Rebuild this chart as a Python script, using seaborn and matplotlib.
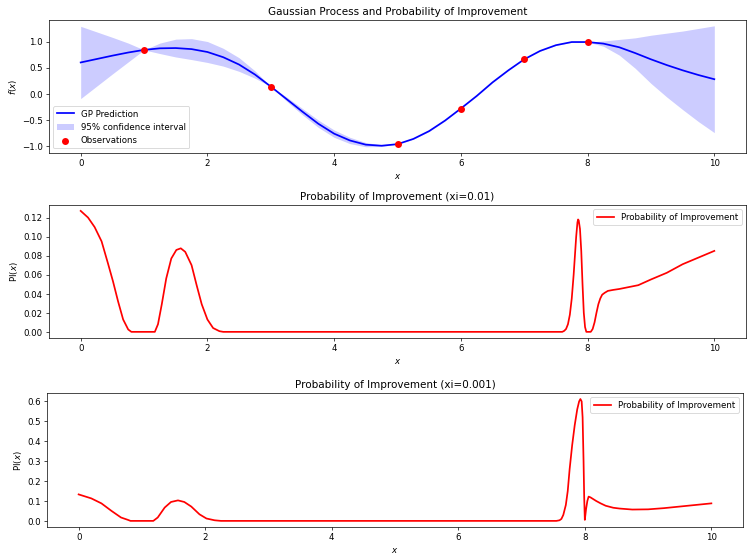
import numpy as np
import pandas as pd
import seaborn as sns
import matplotlib.pyplot as plt

# GP posterior (step 0.25)
x_grid = [0.0, 0.25, 0.5, 0.75, 1.0, 1.25, 1.5, 1.75, 2.0, 2.25, 2.5, 2.75,
          3.0, 3.25, 3.5, 3.75, 4.0, 4.25, 4.5, 4.75, 5.0, 5.25, 5.5, 5.75,
          6.0, 6.25, 6.5, 6.75, 7.0, 7.25, 7.5, 7.75, 8.0, 8.25, 8.5, 8.75,
          9.0, 9.25, 9.5, 9.75, 10.0]
gp_mean = [0.60, 0.665, 0.73, 0.79, 0.84, 0.87, 0.875, 0.855, 0.80, 0.70, 0.56, 0.37,
           0.14, -0.10, -0.34, -0.57, -0.76, -0.89, -0.97, -0.99, -0.96, -0.86, -0.71, -0.51,
           -0.28, -0.04, 0.22, 0.45, 0.66, 0.82, 0.93, 0.99, 0.99, 0.96, 0.89, 0.78,
           0.66, 0.55, 0.45, 0.36, 0.28]
# half width of the 95% band (1.96 sigma)
gp_half = [0.69, 0.52, 0.35, 0.18, 0.0, 0.10, 0.17, 0.20, 0.20, 0.17, 0.13, 0.07,
           0.0, 0.04, 0.06, 0.07, 0.07, 0.06, 0.04, 0.015, 0.0, 0.006, 0.008, 0.006,
           0.0, 0.005, 0.006, 0.005, 0.0, 0.004, 0.005, 0.004, 0.0, 0.05, 0.15, 0.29,
           0.46, 0.61, 0.75, 0.89, 1.02]

obs_x = [1, 3, 5, 6, 7, 8]
obs_y = [0.84, 0.14, -0.96, -0.28, 0.66, 0.99]

# probability of improvement, xi=0.01
pi1_x = [0.0, 0.116, 0.22, 0.33, 0.43, 0.51, 0.59, 0.67, 0.75, 0.80, 1.17, 1.22, 1.28,
         1.35, 1.43, 1.51, 1.58, 1.65, 1.75, 1.83, 1.91, 2.0, 2.09, 2.19, 2.25,
         7.60, 7.63, 7.66, 7.69, 7.72, 7.75, 7.78, 7.80, 7.82, 7.84, 7.85, 7.86, 7.88,
         7.90, 7.92, 7.94, 7.96, 7.98, 8.05, 8.08, 8.11, 8.14, 8.17, 8.20, 8.23, 8.27,
         8.32, 8.40, 8.50, 8.65, 8.80, 9.0, 9.25, 9.5, 9.75, 10.0]
pi1_y = [0.127, 0.120, 0.110, 0.095, 0.072, 0.053, 0.032, 0.013, 0.0025, 0.0, 0.0, 0.008,
         0.029, 0.056, 0.077, 0.086, 0.0877, 0.084, 0.070, 0.049, 0.029, 0.013, 0.004,
         0.0007, 0.0,
         0.0, 0.001, 0.003, 0.008, 0.018, 0.035, 0.060, 0.080, 0.100, 0.115, 0.118, 0.117,
         0.108, 0.085, 0.050, 0.020, 0.005, 0.0, 0.0, 0.003, 0.010, 0.020, 0.029, 0.035,
         0.039, 0.041, 0.043, 0.044, 0.045, 0.047, 0.049, 0.055, 0.062, 0.071, 0.078, 0.085]

# probability of improvement, xi=0.001
pi2_x = [0.0, 0.2, 0.36, 0.52, 0.67, 0.78, 0.82, 1.18, 1.25, 1.36, 1.46, 1.57, 1.67, 1.78,
         1.91, 2.02, 2.15, 2.25,
         7.55, 7.60, 7.63, 7.66, 7.70, 7.73, 7.76, 7.80, 7.84, 7.88, 7.91, 7.93, 7.95,
         7.965, 7.98, 7.99, 8.0, 8.02, 8.04, 8.06, 8.09, 8.13, 8.18, 8.25, 8.33, 8.45,
         8.55, 8.75, 9.0, 9.25, 9.5, 9.75, 10.0]
pi2_y = [0.133, 0.113, 0.088, 0.05, 0.017, 0.005, 0.0, 0.0, 0.017, 0.067, 0.095, 0.103,
         0.095, 0.072, 0.033, 0.012, 0.003, 0.0,
         0.0, 0.003, 0.010, 0.030, 0.080, 0.150, 0.26, 0.38, 0.48, 0.56, 0.60, 0.612, 0.60,
         0.52, 0.30, 0.12, 0.005, 0.06, 0.10, 0.122, 0.118, 0.11, 0.10, 0.088, 0.076, 0.066,
         0.062, 0.057, 0.058, 0.064, 0.072, 0.080, 0.088]

gp = pd.DataFrame({"x": x_grid, "mean": gp_mean, "half": gp_half})
gp["lower"] = gp["mean"] - gp["half"]
gp["upper"] = gp["mean"] + gp["half"]

W, H = 747, 560
fig, axes = plt.subplots(3, 1, figsize=(12, 9), dpi=62.25)

ax = axes[0]
sns.lineplot(data=gp, x="x", y="mean", color="blue", linewidth=2,
             label="GP Prediction", ax=ax)
ax.fill_between(gp["x"], gp["lower"], gp["upper"], color="blue", alpha=0.2,
                linewidth=0, label="95% confidence interval")
sns.scatterplot(x=obs_x, y=obs_y, color="red", s=65, linewidth=0, zorder=3,
                label="Observations", ax=ax)
ax.set_title("Gaussian Process and Probability of Improvement")
ax.set_xlabel("$x$")
ax.set_ylabel("$f(x)$")
ax.legend(loc="lower left")

for ax, px, py, xi in [(axes[1], pi1_x, pi1_y, 0.01), (axes[2], pi2_x, pi2_y, 0.001)]:
    sns.lineplot(x=px, y=py, color="red", linewidth=2,
                 label="Probability of Improvement", ax=ax)
    ax.set_title(f"Probability of Improvement (xi={xi})")
    ax.set_xlabel("$x$")
    ax.set_ylabel("PI($x$)")
    ax.legend(loc="upper right")

# axes boxes in pixels (left, top, right, bottom) as in the reference
boxes = [(49, 20, 746, 153), (49, 205, 746, 338), (47, 393, 743, 527)]
for ax, (l, t, r, b) in zip(axes, boxes):
    ax.set_position([l / W, 1 - b / H, (r - l) / W, (b - t) / H])

plt.savefig("out.png")
